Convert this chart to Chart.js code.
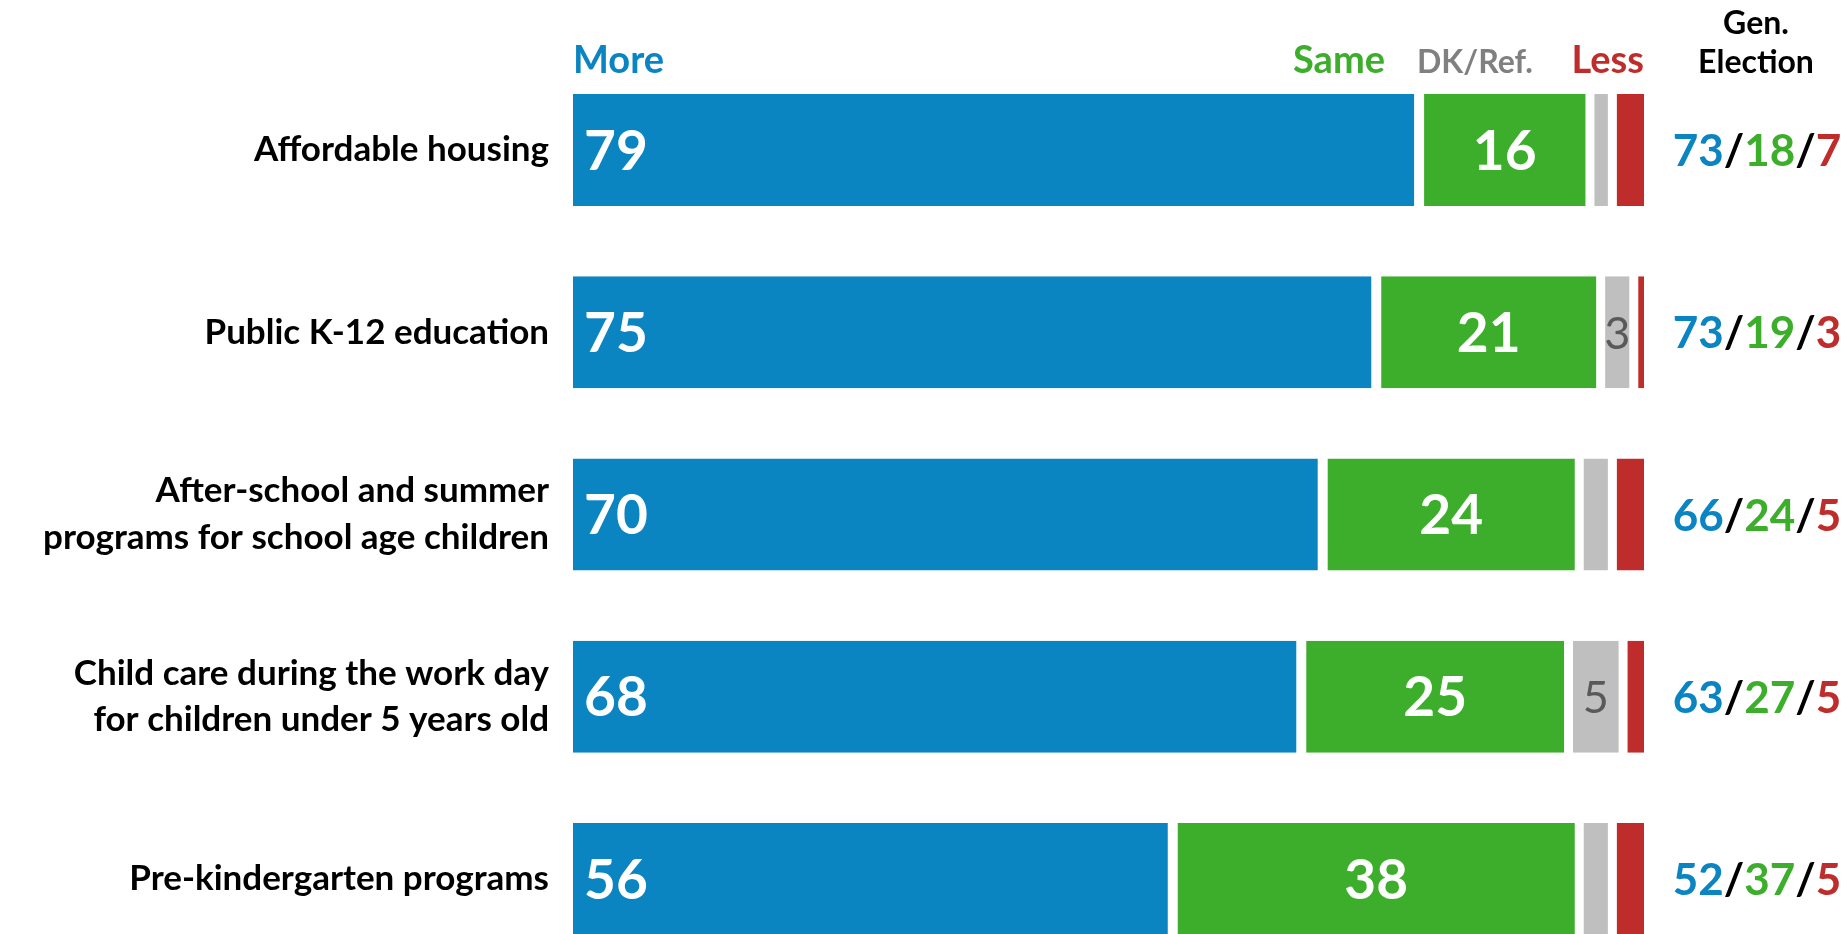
<!DOCTYPE html>
<html>
<head>
<meta charset="utf-8">
<script src="https://cdn.jsdelivr.net/npm/chart.js@4.4.1/dist/chart.umd.min.js"></script>
<style>
  html, body { margin: 0; padding: 0; background: #fff; overflow: hidden; }
  #wrap { width: 1844px; height: 934px; }
</style>
</head>
<body>
<div id="wrap"><canvas id="chart"></canvas></div>
<script>
const categories = [
    ['Affordable housing'],
    ['Public K-12 education'],
    ['After-school and summer', 'programs for school age children'],
    ['Child care during the work day', 'for children under 5 years old'],
    ['Pre-kindergarten programs']
];
const more = [79, 75, 70, 68, 56];
const same = [16, 21, 24, 25, 38];
const dkRef = [2, 3, 3, 5, 3];
const less = [3, 1, 3, 2, 3];
const dkLabels = ['', '3', '', '5', ''];

// Gen. Election column
const genMore = [73, 73, 66, 63, 52];
const genSame = [18, 19, 24, 27, 37];
const genLess = [7, 3, 5, 5, 5];

const FONT = 'Lato';
const blue = '#0B84C2';
const green = '#3DAE2B';
const gray = '#BFBFBF';
const red = '#BE2D2C';

// headers, values in bars, right column
const overlay = {
    id: 'overlay',
    afterDatasetsDraw(chart) {
        const ctx = chart.ctx;
        const xs = chart.scales.x;
        ctx.save();

        ctx.textBaseline = 'alphabetic';
        ctx.font = `bold 38px ${FONT}`;
        ctx.textAlign = 'left';
        ctx.fillStyle = blue;
        ctx.fillText('More', xs.left, 73);
        ctx.textAlign = 'right';
        ctx.fillStyle = green;
        ctx.fillText('Same', 1385, 73);
        ctx.fillStyle = red;
        ctx.fillText('Less', xs.right, 73);
        ctx.font = `bold 32px ${FONT}`;
        ctx.textAlign = 'left';
        ctx.fillStyle = '#808080';
        ctx.fillText('DK/Ref.', 1417, 73);
        ctx.textAlign = 'center';
        ctx.fillStyle = '#000';
        ctx.fillText('Gen.', 1756, 34);
        ctx.fillText('Election', 1756, 73);

        ctx.textBaseline = 'middle';
        const mMore = chart.getDatasetMeta(0).data;
        const mSame = chart.getDatasetMeta(1).data;
        const mDk = chart.getDatasetMeta(2).data;

        ctx.font = `bold 55px ${FONT}`;
        ctx.fillStyle = '#fff';
        more.forEach((v, i) => {
            ctx.textAlign = 'left';
            ctx.fillText(v, mMore[i].base + 11, mMore[i].y + 2);
        });
        same.forEach((v, i) => {
            ctx.textAlign = 'center';
            ctx.fillText(v, (mSame[i].base + mSame[i].x) / 2, mSame[i].y + 2);
        });

        ctx.font = `45px ${FONT}`;
        ctx.fillStyle = '#595959';
        dkLabels.forEach((t, i) => {
            if (!t) return;
            ctx.textAlign = 'center';
            ctx.fillText(t, (mDk[i].base + mDk[i].x) / 2, mDk[i].y + 2);
        });

        ctx.font = `bold 44px ${FONT}`;
        ctx.textAlign = 'left';
        mMore.forEach((bar, i) => {
            const parts = [
                [String(genMore[i]), blue], ['/', '#000'],
                [String(genSame[i]), green], ['/', '#000'],
                [String(genLess[i]), red]
            ];
            let w = 0;
            parts.forEach(p => { w += ctx.measureText(p[0]).width; });
            let x = 1757 - w / 2;
            parts.forEach(p => {
                ctx.fillStyle = p[1];
                ctx.fillText(p[0], x, bar.y + 2);
                x += ctx.measureText(p[0]).width;
            });
        });

        ctx.restore();
    }
};

const ctx = document.getElementById('chart').getContext('2d');
const myChart = new Chart(ctx, {
    type: 'bar',
    data: {
        labels: categories,
        datasets: [
            { label: 'More', data: more, backgroundColor: blue, borderColor: '#fff', borderWidth: { right: 5 } },
            { label: 'Same', data: same, backgroundColor: green, borderColor: '#fff', borderWidth: { left: 5, right: 5 } },
            { label: 'DK/Ref.', data: dkRef, backgroundColor: gray, borderColor: '#fff', borderWidth: { left: 4, right: 4 } },
            { label: 'Less', data: less, backgroundColor: red, borderColor: '#fff', borderWidth: { left: 5 } }
        ]
    },
    options: {
        indexAxis: 'y',
        responsive: true,
        maintainAspectRatio: false,
        animation: false,
        layout: {
            padding: { left: 0, right: 200, top: 150, bottom: 55 }
        },
        datasets: {
            bar: {
                borderSkipped: false,
                categoryPercentage: 1,
                barPercentage: 0.615,
                clip: false
            }
        },
        scales: {
            x: {
                display: false,
                stacked: true,
                min: 0,
                max: 100
            },
            y: {
                stacked: true,
                offset: false,
                grid: { display: false },
                border: { display: false },
                afterFit(scale) { scale.width = 573; },
                ticks: {
                    autoSkip: false,
                    padding: 16,
                    color: '#000',
                    font: { family: FONT, size: 35, weight: 'bold', lineHeight: 1.34 }
                }
            }
        },
        plugins: {
            legend: { display: false },
            tooltip: { enabled: false }
        }
    },
    plugins: [overlay]
});
</script>
</body>
</html>
